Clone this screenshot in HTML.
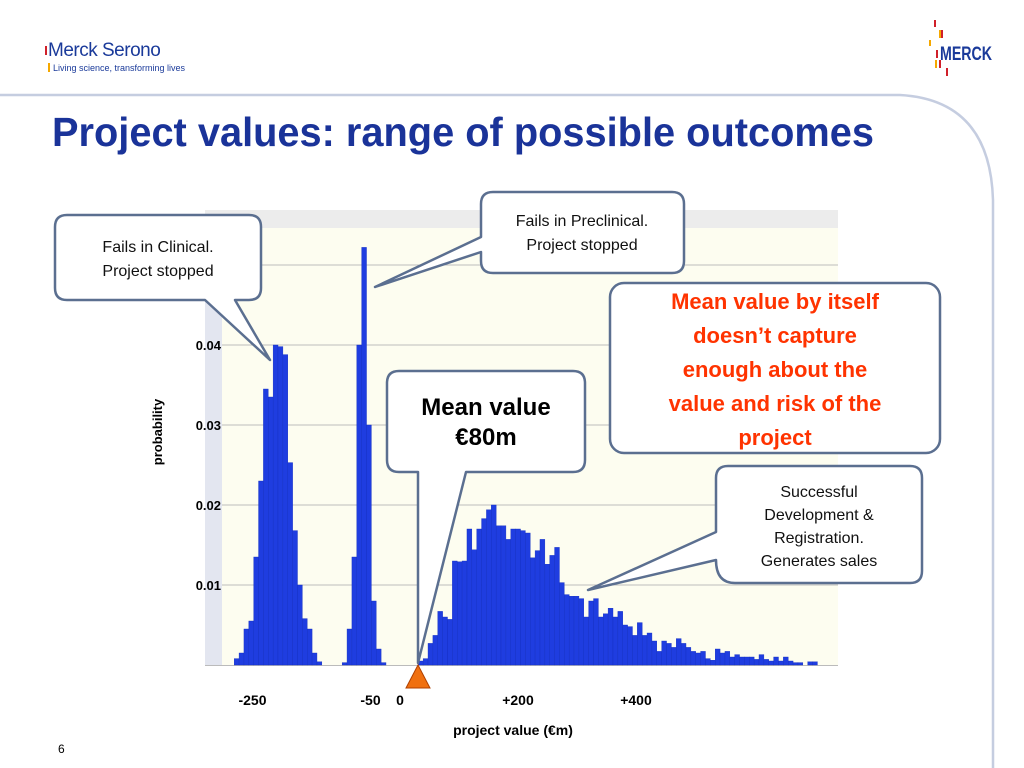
<!DOCTYPE html>
<html><head><meta charset="utf-8"><style>
html,body{margin:0;padding:0;background:#fff;}
svg{display:block;font-family:"Liberation Sans",Arial,sans-serif;}
</style></head><body>
<svg id="s" width="1024" height="768" viewBox="0 0 1024 768">
<g>
<rect x="45" y="46" width="2" height="9" fill="#d0202a"/>
<text x="48" y="56" font-size="19" fill="#1a3a9a" letter-spacing="-0.5">Merck Serono</text>
<rect x="48" y="63" width="2" height="9" fill="#f5a800"/>
<text x="53" y="71" font-size="9" fill="#1a3a9a">Living science, transforming lives</text>
</g>
<g>
<rect x="934" y="20" width="2" height="7" fill="#d0202a"/>
<rect x="939" y="30" width="2" height="8" fill="#f5a800"/>
<rect x="941" y="30" width="2" height="8" fill="#d0202a"/>
<rect x="929" y="40" width="2" height="6" fill="#f5a800"/>
<rect x="936" y="50" width="2" height="8" fill="#d0202a"/>
<rect x="935" y="60" width="2" height="8" fill="#f5a800"/>
<rect x="939" y="60" width="2" height="8" fill="#d0202a"/>
<rect x="946" y="68" width="2" height="8" fill="#d0202a"/>
<text x="940" y="60" font-size="19" font-weight="bold" fill="#1a3a9a" textLength="52" lengthAdjust="spacingAndGlyphs">MERCK</text>
</g>
<path d="M0 95 L900 95 Q990 100 993 200 L993 768" fill="none" stroke="#c5cde0" stroke-width="2.5"/>
<text x="52" y="146" font-size="41" font-weight="bold" fill="#1a3399" textLength="822" lengthAdjust="spacingAndGlyphs">Project values: range of possible outcomes</text>

<g id="chart">
<rect x="205" y="210" width="633" height="18" fill="#ececec"/>
<rect x="222" y="228" width="616" height="437" fill="#fdfdf0"/>
<rect x="205" y="228" width="17" height="437" fill="#e3e6f0"/>
<g id="grid"></g><g id="bars"></g><g id="yticks"></g><g id="xticks"></g>
</g>
<text transform="translate(162,432) rotate(-90)" text-anchor="middle" font-size="13" font-weight="bold">probability</text>
<text x="513" y="735" text-anchor="middle" font-size="14" font-weight="bold">project value (€m)</text>
<path d="M406 688 L418 665 L430 688 Z" fill="#f07010" stroke="#b04000" stroke-width="1"/>

<g fill="#fff" stroke="#5b6f90" stroke-width="2.5" stroke-linejoin="round">
<path d="M67 215 H249 Q261 215 261 227 V288 Q261 300 249 300 H235 L270 360 L205 300 H67 Q55 300 55 288 V227 Q55 215 67 215 Z"/>
<path d="M493 192 H672 Q684 192 684 204 V261 Q684 273 672 273 H493 Q481 273 481 261 V252 L375 287 L481 237 V204 Q481 192 493 192 Z"/>
<path d="M399 371 H573 Q585 371 585 383 V460 Q585 472 573 472 H466 L418 663 L418 472 H399 Q387 472 387 460 V383 Q387 371 399 371 Z"/>
<path d="M728 466 H910 Q922 466 922 478 V571 Q922 583 910 583 H735 Q716 583 716 560 L588 590 L716 532 V478 Q716 466 728 466 Z"/>
<rect x="610" y="283" width="330" height="170" rx="14"/>
</g>
<g font-size="16" text-anchor="middle" fill="#111">
<text x="158" y="252">Fails in Clinical.<tspan x="158" dy="24">Project stopped</tspan></text>
<text x="582" y="226">Fails in Preclinical.<tspan x="582" dy="24">Project stopped</tspan></text>
<text x="819" y="497">Successful<tspan x="819" dy="23">Development &amp;</tspan><tspan x="819" dy="23">Registration.</tspan><tspan x="819" dy="23">Generates sales</tspan></text>
</g>
<text x="486" y="415" font-size="24" font-weight="bold" text-anchor="middle">Mean value<tspan x="486" dy="30">€80m</tspan></text>
<text x="775" y="309" font-size="22" font-weight="bold" text-anchor="middle" fill="#ff3300">Mean value by itself<tspan x="775" dy="34">doesn’t capture</tspan><tspan x="775" dy="34">enough about the</tspan><tspan x="775" dy="34">value and risk of the</tspan><tspan x="775" dy="34">project</tspan></text>
<text x="58" y="753" font-size="12">6</text>
</svg>
<script>
const clinicalProb=[0.0008,0.0015,0.0045,0.0055,0.0135,0.023,0.0345,0.0335,0.040,0.0398,0.0388,0.0253,0.0168,0.010,0.0058,0.0045,0.0015,0.0004];
const preclinicalProb=[0.0003,0.0045,0.0135,0.040,0.0522,0.030,0.008,0.002,0.0003];
const successProb=[0.0005,0.0008,0.0027,0.0037,0.0067,0.006,0.0057,0.013,0.0129,0.013,0.017,0.0144,0.017,0.0183,0.0194,0.020,0.0174,0.0174,0.0157,0.017,0.017,0.0168,0.0165,0.0134,0.0143,0.0157,0.0126,0.0137,0.0147,0.0103,0.0088,0.0086,0.0086,0.0083,0.006,0.008,0.0083,0.006,0.0064,0.0071,0.006,0.0067,0.005,0.0048,0.0037,0.0053,0.0037,0.004,0.003,0.0017,0.003,0.0027,0.0022,0.0033,0.0027,0.0022,0.0017,0.0015,0.0017,0.0008,0.0006,0.002,0.0015,0.0017,0.001,0.0013,0.001,0.001,0.001,0.0007,0.0013,0.0007,0.0005,0.001,0.0005,0.001,0.0005,0.0003,0.0003,0,0.0004,0.0004];
const clusterStarts=[-281,-98,31];
const binWidth=8.25;
const yTicks=[0.01,0.02,0.03,0.04];
const gridLines=[0.01,0.02,0.03,0.04,0.05];
const xTickValues=[-250,-50,0,200,400];
const xTickLabels=["-250","-50","0","+200","+400"];
const NS="http://www.w3.org/2000/svg";
const X=v=>400+0.59*v;
const Y=p=>665-p*8000;
function mk(t,a,parent){const e=document.createElementNS(NS,t);for(const k in a)e.setAttribute(k,a[k]);document.getElementById(parent).appendChild(e);return e;}
gridLines.forEach(g=>{const l=mk('line',{x1:222,x2:838,y1:Y(g),y2:Y(g),stroke:'#bdbdbd','stroke-width':1},'grid');

});
const bl=mk('line',{x1:205,x2:838,y1:665.5,y2:665.5,stroke:'#bbb','stroke-width':1},'grid');


[clinicalProb,preclinicalProb,successProb].forEach((arr,ci)=>{arr.forEach((p,i)=>{const v=clusterStarts[ci]+i*binWidth;const x=X(v);const w=X(v+binWidth)-x;
const r=mk('rect',{x:x,y:Y(p),width:w,height:665-Y(p),fill:'#1f3de0',stroke:'#1530c0','stroke-width':0.4},'bars');

});});
yTicks.forEach(t=>{const e=mk('text',{x:221,y:Y(t)+5,'text-anchor':'end','font-size':13,'font-weight':'bold'},'yticks');e.textContent=t.toFixed(2);

});
xTickValues.forEach((v,i)=>{const e=mk('text',{x:X(v),y:705,'text-anchor':'middle','font-size':14,'font-weight':'bold'},'xticks');e.textContent=xTickLabels[i];

});
</script>
</body></html>
